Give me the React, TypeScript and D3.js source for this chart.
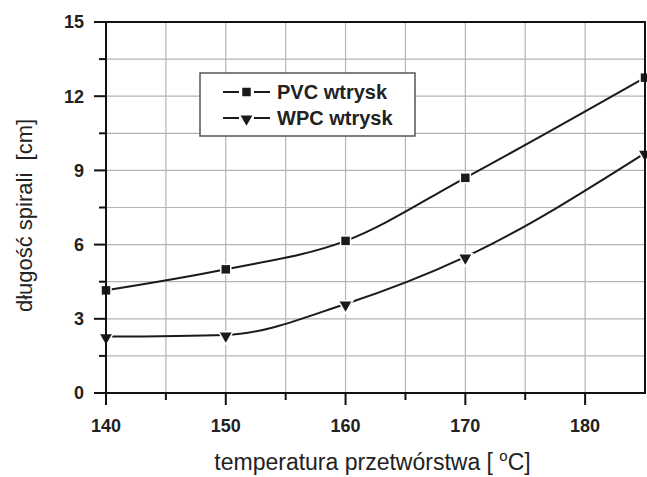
import React, { useEffect, useRef } from 'react';
import * as d3 from 'd3';

const temps = [140, 150, 160, 170, 185];
const pvcValues = [4.15, 5.0, 6.15, 8.7, 12.75];
const wpcValues = [2.28, 2.35, 3.6, 5.5, 9.7];
const xTicks = [140, 150, 160, 170, 180];
const yTicks = [0, 3, 6, 9, 12, 15];
const seriesNames = ['PVC wtrysk', 'WPC wtrysk'];

const width = 647;
const height = 477;

const App: React.FC = () => {
  const svgRef = useRef<SVGSVGElement>(null);

  useEffect(() => {
    const svg = d3.select(svgRef.current);
    svg.selectAll('*').remove();

    const margin = { top: 22, right: 2, bottom: 84, left: 106 };
    const innerWidth = width - margin.left - margin.right;
    const innerHeight = height - margin.top - margin.bottom;
    const font = 'Liberation Sans, Arial, sans-serif';

    const g = svg.append('g')
      .attr('transform', `translate(${margin.left},${margin.top})`);

    const xScale = d3.scaleLinear().domain([140, 185]).range([0, innerWidth]);
    const yScale = d3.scaleLinear().domain([0, 15]).range([innerHeight, 0]);

    // grid
    const xGrid = d3.range(145, 185, 5);
    const yGrid = d3.range(1.5, 15, 1.5);
    g.selectAll('.vgrid').data(xGrid).enter().append('line')
      .attr('x1', d => xScale(d)).attr('x2', d => xScale(d))
      .attr('y1', 0).attr('y2', innerHeight)
      .attr('stroke', '#b4b4b4').attr('stroke-width', 1.2);
    g.selectAll('.hgrid').data(yGrid).enter().append('line')
      .attr('x1', 0).attr('x2', innerWidth)
      .attr('y1', d => yScale(d)).attr('y2', d => yScale(d))
      .attr('stroke', '#b4b4b4').attr('stroke-width', 1.2);

    // lines
    const series = [pvcValues, wpcValues];
    const line = d3.line<number>()
      .x((d, i) => xScale(temps[i]))
      .y(d => yScale(d))
      .curve(d3.curveMonotoneX);

    series.forEach(vals => {
      g.append('path')
        .datum(vals)
        .attr('d', line)
        .attr('fill', 'none')
        .attr('stroke', '#1a1a1a')
        .attr('stroke-width', 2);
    });

    // markers
    const square = d3.symbol().type(d3.symbolSquare).size(72);
    const tri = d3.symbol().type(d3.symbolTriangle).size(60);
    g.selectAll('.pvc').data(pvcValues).enter().append('path')
      .attr('d', square)
      .attr('transform', (d, i) => `translate(${xScale(temps[i])},${yScale(d)})`)
      .attr('fill', '#1a1a1a')
      .attr('stroke', '#fff').attr('stroke-width', 3)
      .style('paint-order', 'stroke');
    g.selectAll('.wpc').data(wpcValues).enter().append('path')
      .attr('d', tri)
      .attr('transform', (d, i) => `translate(${xScale(temps[i])},${yScale(d) + 1}) rotate(180)`)
      .attr('fill', '#1a1a1a')
      .attr('stroke', '#fff').attr('stroke-width', 3)
      .style('paint-order', 'stroke');

    // frame
    g.append('rect')
      .attr('x', 0).attr('y', 0)
      .attr('width', innerWidth).attr('height', innerHeight)
      .attr('fill', 'none').attr('stroke', '#111').attr('stroke-width', 2);

    // Y axis ticks
    const yMinor = d3.range(1.5, 15, 3);
    g.selectAll('.ymaj').data(yTicks).enter().append('line')
      .attr('x1', -12).attr('x2', 0)
      .attr('y1', d => yScale(d)).attr('y2', d => yScale(d))
      .attr('stroke', '#111').attr('stroke-width', 2);
    g.selectAll('.ymin').data(yMinor).enter().append('line')
      .attr('x1', -7).attr('x2', 0)
      .attr('y1', d => yScale(d)).attr('y2', d => yScale(d))
      .attr('stroke', '#111').attr('stroke-width', 2);
    g.selectAll('.ylab').data(yTicks).enter().append('text')
      .attr('x', -22).attr('y', d => yScale(d))
      .attr('dy', '0.36em')
      .attr('text-anchor', 'end')
      .style('font-family', font)
      .style('font-weight', 'bold')
      .style('font-size', '18px')
      .style('fill', '#222')
      .text(d => d);

    // X axis ticks
    const xMinor = [145, 155, 165, 175];
    g.selectAll('.xmaj').data(xTicks).enter().append('line')
      .attr('x1', d => xScale(d)).attr('x2', d => xScale(d))
      .attr('y1', innerHeight).attr('y2', innerHeight + 12)
      .attr('stroke', '#111').attr('stroke-width', 2);
    g.selectAll('.xmin').data(xMinor).enter().append('line')
      .attr('x1', d => xScale(d)).attr('x2', d => xScale(d))
      .attr('y1', innerHeight).attr('y2', innerHeight + 7)
      .attr('stroke', '#111').attr('stroke-width', 2);
    g.selectAll('.xlab').data(xTicks).enter().append('text')
      .attr('x', d => xScale(d)).attr('y', innerHeight + 39)
      .attr('text-anchor', 'middle')
      .style('font-family', font)
      .style('font-weight', 'bold')
      .style('font-size', '18px')
      .style('fill', '#222')
      .text(d => d);

    // axis titles
    g.append('text')
      .attr('x', innerWidth / 2 - 3).attr('y', innerHeight + 77)
      .attr('text-anchor', 'middle')
      .style('font-family', font)
      .style('font-size', '23px')
      .style('fill', '#222')
      .html('temperatura przetwórstwa [ <tspan dy="-9" font-size="15">o</tspan><tspan dy="9">C]</tspan>');

    g.append('text')
      .attr('transform', `translate(${-74},${innerHeight / 2 + 8}) rotate(-90)`)
      .attr('text-anchor', 'middle')
      .style('font-family', font)
      .style('font-size', '22px')
      .style('fill', '#222')
      .style('white-space', 'pre')
      .text('długość spirali  [cm]');

    // legend
    const legend = svg.append('g').attr('transform', 'translate(200,73)');
    legend.append('rect')
      .attr('width', 215).attr('height', 63)
      .attr('fill', '#fff').attr('stroke', '#555').attr('stroke-width', 1.5);
    const items = legend.selectAll('.item').data(seriesNames).enter().append('g')
      .attr('transform', (d, i) => `translate(0,${19 + i * 26})`);
    items.append('line')
      .attr('x1', 23).attr('x2', 70).attr('y1', 0).attr('y2', 0)
      .attr('stroke', '#1a1a1a').attr('stroke-width', 2);
    items.append('rect')
      .attr('x', 39).attr('y', -6).attr('width', 15).attr('height', 12)
      .attr('fill', '#fff');
    items.append('path')
      .attr('d', (d, i) => (i === 0 ? square() : tri()))
      .attr('transform', (d, i) => (i === 0 ? 'translate(46.5,0)' : 'translate(46.5,1) rotate(180)'))
      .attr('fill', '#1a1a1a');
    items.append('text')
      .attr('x', 77).attr('y', 0).attr('dy', '0.36em')
      .style('font-family', font)
      .style('font-weight', 'bold')
      .style('font-size', '20px')
      .style('fill', '#222')
      .text(d => d);
  }, []);

  return (
    <svg
      ref={svgRef}
      width={width}
      height={height}
      style={{ position: 'absolute', left: 0, top: 0, background: '#fff' }}
    />
  );
};

export default App;
